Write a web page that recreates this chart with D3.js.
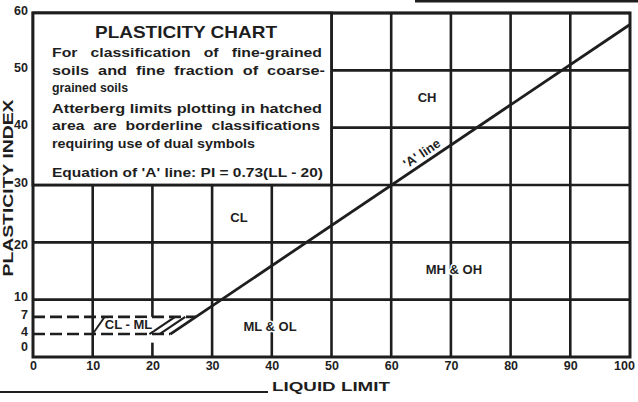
<!DOCTYPE html>
<html><head><meta charset="utf-8">
<script src="https://cdn.jsdelivr.net/npm/d3@7"></script>
<style>body{margin:0;background:#fff}svg{display:block}text{font-family:"Liberation Sans",Arial,sans-serif;font-weight:bold;fill:#1e1e1e}</style>
</head><body>
<svg id="c" width="638" height="402"></svg>
<script>
// ---- data ----
const xTicks = [0,10,20,30,40,50,60,70,80,90,100];
const yTicks = [0,4,7,10,20,30,40,50,60];
const hLines = [ // [PI, LL from, LL to]
  [10,0,100],[20,0,100],[30,0,100],[40,50,100],[50,50,100],[60,0,100]];
const vLines = [ // [LL, PI from, PI to]
  [10,0,30],[20,7,30],[20,0,2.5],[30,0,30],[40,0,30],[50,0,60],[60,0,60],[70,0,60],[80,0,60],[90,0,60]];
const aLine = [[23,4],[100,58]];
const hatchPoly = [[10,4],[12,7],[27.3,7],[23,4]];
const dashed = [[7,0,27.3],[4,0,23]];
const hatchStrokes = [[19.5,4,23.8,7],[21.2,4,25.5,7]];
const zoneLabels = [
  {t:"CH",ll:66,pi:44.5},{t:"CL",ll:34.5,pi:23.5},{t:"MH & OH",ll:70.5,pi:14.5},
  {t:"ML & OL",ll:39.7,pi:4.5},{t:"CL - ML",ll:16,pi:4.8}];
const boxLines = [
  {t:"For   classification   of   fine-grained",y:57,len:270},
  {t:"soils  and  fine  fraction  of  coarse-",y:75,len:273},
  {t:"grained soils",y:92,len:76},
  {t:"Atterberg limits plotting in hatched",y:113,len:270},
  {t:"area  are  borderline  classifications",y:130,len:268},
  {t:"requiring use of dual symbols",y:148,len:203},
  {t:"Equation of 'A' line: PI = 0.73(LL - 20)",y:177,len:271}];

// ---- drawing ----
const svg = d3.select("#c");
const ink = "#1e1e1e";
const x = d3.scaleLinear().domain([0,100]).range([33,630]);
const y = d3.scaleLinear().domain([0,60]).range([357,13]);

// page rules from the scan
svg.append("line").attr("x1",0).attr("x2",268).attr("y1",392).attr("y2",392).attr("stroke",ink).attr("stroke-width",2.2);
svg.append("line").attr("x1",415).attr("x2",638).attr("y1",1).attr("y2",1).attr("stroke",ink).attr("stroke-width",3);

const g = svg.append("g");
g.selectAll(".h").data(hLines).join("line")
  .attr("x1",d=>x(d[1])).attr("x2",d=>x(d[2])).attr("y1",d=>y(d[0])).attr("y2",d=>y(d[0]))
  .attr("stroke",ink).attr("stroke-width",2.6);
g.selectAll(".v").data(vLines).join("line")
  .attr("x1",d=>x(d[0])).attr("x2",d=>x(d[0])).attr("y1",d=>y(d[1])).attr("y2",d=>y(d[2]))
  .attr("stroke",ink).attr("stroke-width",2.6);
// outer border
g.append("rect").attr("x",x(0)).attr("y",y(60)).attr("width",x(100)-x(0)).attr("height",y(0)-y(60))
  .attr("fill","none").attr("stroke",ink).attr("stroke-width",3);

// dashed PI 4 and 7 lines
g.selectAll(".d").data(dashed).join("line")
  .attr("x1",d=>x(d[1])).attr("x2",d=>x(d[2])).attr("y1",d=>y(d[0])).attr("y2",d=>y(d[0]))
  .attr("stroke",ink).attr("stroke-width",2.6).attr("stroke-dasharray","12,5");
// hatched zone outline left edge
g.append("line").attr("x1",x(hatchPoly[0][0])).attr("y1",y(hatchPoly[0][1]))
  .attr("x2",x(hatchPoly[1][0])).attr("y2",y(hatchPoly[1][1])).attr("stroke",ink).attr("stroke-width",1.8);
g.selectAll(".hs").data(hatchStrokes).join("line")
  .attr("x1",d=>x(d[0])).attr("y1",d=>y(d[1])).attr("x2",d=>x(d[2])).attr("y2",d=>y(d[3]))
  .attr("stroke",ink).attr("stroke-width",2.2);

// A line
g.append("path").attr("d",d3.line().x(d=>x(d[0])).y(d=>y(d[1]))(aLine))
  .attr("fill","none").attr("stroke",ink).attr("stroke-width",2.8);
const ang = Math.atan2(y(aLine[1][1])-y(aLine[0][1]), x(aLine[1][0])-x(aLine[0][0]))*180/Math.PI;
const tLL = 66, tPI = aLine[0][1] + (tLL-aLine[0][0])*(aLine[1][1]-aLine[0][1])/(aLine[1][0]-aLine[0][0]);
g.append("text").attr("transform",`translate(${x(tLL)},${y(tPI)}) rotate(${ang}) translate(0,-5)`)
  .attr("text-anchor","middle").attr("font-size",13).text("'A' line");

// white box at top-left
g.append("rect").attr("x",x(0)).attr("y",y(60)).attr("width",x(50)-x(0)).attr("height",y(30)-y(60))
  .attr("fill","#fff").attr("stroke",ink).attr("stroke-width",2.8);
g.append("text").attr("x",186).attr("y",38).attr("text-anchor","middle").attr("font-size",17)
  .attr("textLength",182).attr("lengthAdjust","spacingAndGlyphs").text("PLASTICITY CHART");
g.selectAll(".bl").data(boxLines).join("text")
  .attr("x",52).attr("y",d=>d.y).attr("font-size",12.5).attr("xml:space","preserve")
  .style("white-space","pre")
  .attr("textLength",d=>d.len).attr("lengthAdjust","spacingAndGlyphs").text(d=>d.t);

// zone labels
g.selectAll(".zl").data(zoneLabels).join("text")
  .attr("x",d=>x(d.ll)).attr("y",d=>y(d.pi)).attr("text-anchor","middle").attr("font-size",13)
  .attr("stroke","#fff").attr("stroke-width",3).attr("paint-order","stroke")
  .text(d=>d.t);

// axes
const ax = svg.append("g").attr("transform",`translate(0,${y(0)})`)
  .call(d3.axisBottom(x).tickValues(xTicks).tickSize(0).tickPadding(4).tickFormat(d3.format("d")));
ax.select(".domain").remove();
ax.selectAll("text").attr("font-size",12.5).attr("font-family","Liberation Sans, Arial, sans-serif").attr("font-weight","bold").attr("fill",ink)
  .attr("text-anchor",d=>d===100?"end":"middle").attr("dx",d=>d===100?"0.35em":0);
const ay = svg.append("g").attr("transform",`translate(${x(0)},0)`)
  .call(d3.axisLeft(y).tickValues(yTicks).tickSize(0).tickPadding(5).tickFormat(d3.format("d")));
ay.select(".domain").remove();
ay.selectAll("text").attr("font-size",12.5).attr("font-family","Liberation Sans, Arial, sans-serif").attr("font-weight","bold").attr("fill",ink)
  .attr("dy",d=>d===0?"-0.5em":(d===20?"0.5em":"0.1em"));

svg.append("text").attr("x",331).attr("y",391).attr("text-anchor","middle").attr("font-size",13)
  .attr("textLength",118).attr("lengthAdjust","spacingAndGlyphs").text("LIQUID LIMIT");
svg.append("text").attr("transform","translate(13,188) rotate(-90)").attr("text-anchor","middle")
  .attr("font-size",14).attr("textLength",177).attr("lengthAdjust","spacingAndGlyphs").text("PLASTICITY INDEX");
</script>
</body></html>
